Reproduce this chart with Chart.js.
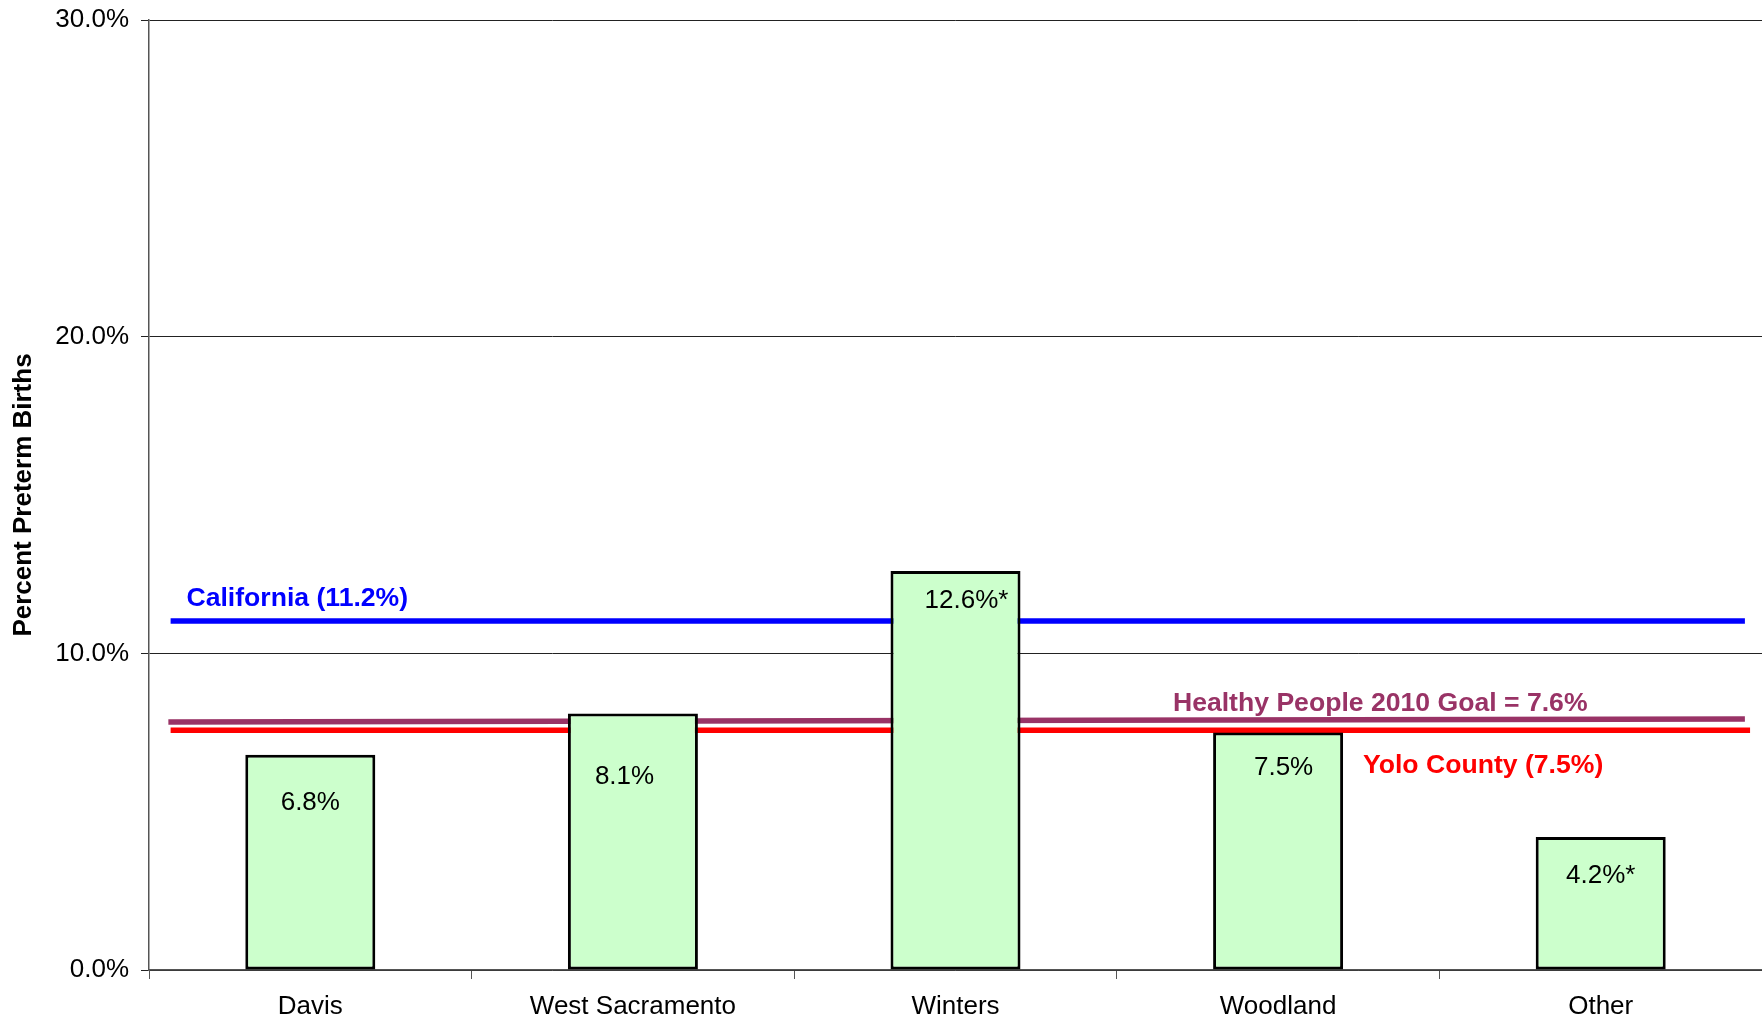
<!DOCTYPE html>
<html>
<head>
<meta charset="utf-8">
<title>Percent Preterm Births</title>
<script src="https://cdn.jsdelivr.net/npm/chart.js@4.4.0/dist/chart.umd.min.js"></script>
<style>
  html, body { margin: 0; padding: 0; background: #fff; }
  canvas { display: block; }
</style>
</head>
<body>
<canvas id="pretermChart" width="1762" height="1022"></canvas>
<script>
// categories and bar values (percent)
const cities = ['Davis', 'West Sacramento', 'Winters', 'Woodland', 'Other'];
const pretermPct = [6.8, 8.1, 12.6, 7.5, 4.2];
const barLabels = ['6.8%', '8.1%', '12.6%*', '7.5%', '4.2%*'];
// where the value labels sit inside the bars (category units, % units)
const barLabelX = [0, 0.974, 2.034, 3.017, 4];
const barLabelY = [5.28, 6.10, 11.66, 6.37, 2.97];

// reference lines: [start, end] in category units and %
const californiaX = [-0.433, 4.447];
const californiaY = [11.02, 11.02];
const healthyX = [-0.44, 4.447];
const healthyY = [7.83, 7.93];
const yoloX = [-0.433, 4.463];
const yoloY = [7.57, 7.57];

// text for the reference lines: [text, x, y, colour]
const refTexts = [
    ['California (11.2%)', -0.384, 11.73, '#0000FF'],
    ['Healthy People 2010 Goal = 7.6%', 2.674, 8.40, '#993366'],
    ['Yolo County (7.5%)', 3.263, 6.45, '#FF0000']
];

const yTicks = [0, 10, 20, 30];

const fontFamily = '"Liberation Sans", Arial, sans-serif';

function toPoints(xs, ys) {
    return xs.map((x, i) => ({ x: x, y: ys[i] }));
}

// labels inside bars and texts of the lines
const textPlugin = {
    id: 'textPlugin',
    afterDatasetsDraw(chart) {
        const ctx = chart.ctx;
        const yScale = chart.scales.y;
        const x2 = chart.scales.x2;
        ctx.save();
        ctx.textBaseline = 'middle';
        ctx.textAlign = 'center';
        ctx.fillStyle = '#000';
        ctx.font = '26px ' + fontFamily;
        barLabels.forEach((txt, i) => {
            ctx.fillText(txt, x2.getPixelForValue(barLabelX[i]), yScale.getPixelForValue(barLabelY[i]));
        });
        ctx.textAlign = 'left';
        ctx.font = 'bold 26.6px ' + fontFamily;
        refTexts.forEach(t => {
            ctx.fillStyle = t[3];
            ctx.fillText(t[0], x2.getPixelForValue(t[1]), yScale.getPixelForValue(t[2]));
        });
        ctx.restore();
    }
};

const lineSet = (label, xs, ys, color) => ({
    type: 'line',
    label: label,
    data: toPoints(xs, ys),
    xAxisID: 'x2',
    borderColor: color,
    borderWidth: 5.5,
    pointRadius: 0,
    fill: false,
    borderCapStyle: 'butt'
});

const ctx = document.getElementById('pretermChart').getContext('2d');
new Chart(ctx, {
    type: 'bar',
    data: {
        labels: cities,
        datasets: [
            {
                type: 'bar',
                label: 'Preterm',
                data: pretermPct,
                xAxisID: 'x',
                grouped: false,
                backgroundColor: '#CCFFCC',
                borderColor: '#000',
                borderWidth: 3,
                borderSkipped: false,
                categoryPercentage: 1,
                barPercentage: 0.403
            },
            lineSet('California', californiaX, californiaY, '#0000FF'),
            lineSet('Healthy People', healthyX, healthyY, '#993366'),
            lineSet('Yolo County', yoloX, yoloY, '#FF0000')
        ]
    },
    plugins: [textPlugin],
    options: {
        responsive: false,
        animation: false,
        layout: { padding: { top: 20, right: 0, left: 0, bottom: 0 } },
        plugins: {
            legend: { display: false },
            tooltip: { enabled: false }
        },
        scales: {
            x: {
                type: 'category',
                offset: true,
                grid: {
                    offset: true,
                    drawOnChartArea: false,
                    drawTicks: true,
                    tickLength: 9,
                    color: '#555'
                },
                border: { display: true, color: '#555', width: 1.5 },
                ticks: {
                    color: '#000',
                    padding: 12,
                    maxRotation: 0,
                    font: { family: fontFamily, size: 26 }
                },
                afterFit(scale) { scale.height = 52; }
            },
            x2: {
                type: 'linear',
                display: false,
                offset: false,
                grid: { offset: false },
                min: -0.5,
                max: 4.5
            },
            y: {
                min: 0,
                max: 30,
                afterBuildTicks(scale) { scale.ticks = yTicks.map(v => ({ value: v })); },
                grid: {
                    color: '#222',
                    lineWidth: 1,
                    tickLength: 8
                },
                border: { display: true, color: '#555', width: 1.5 },
                ticks: {
                    color: '#000',
                    padding: 12,
                    font: { family: fontFamily, size: 26, lineHeight: 0.6 },
                    callback: v => v.toFixed(1) + '%'
                },
                title: {
                    display: true,
                    text: 'Percent Preterm Births',
                    color: '#000',
                    padding: { top: 8, bottom: 0 },
                    font: { family: fontFamily, size: 26, weight: 'bold' }
                },
                afterFit(scale) { scale.width = 149; }
            }
        }
    }
});
</script>
</body>
</html>
